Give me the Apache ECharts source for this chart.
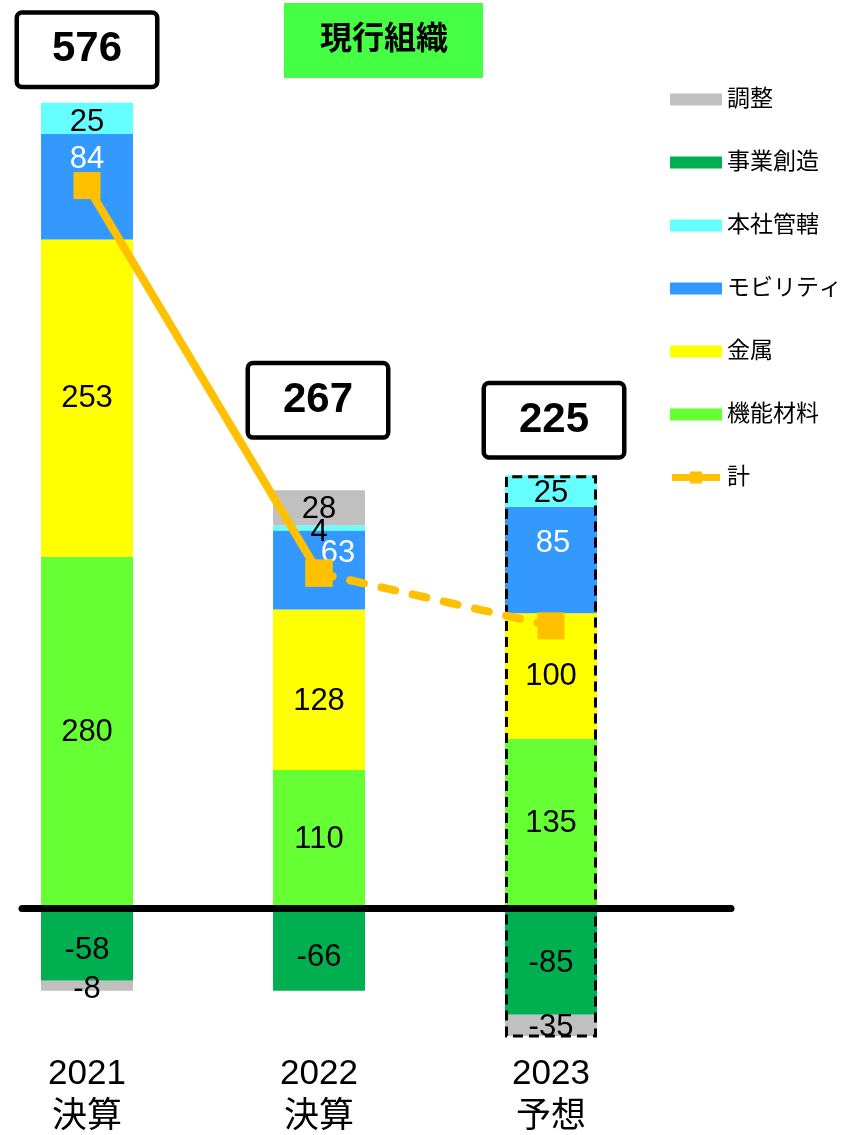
<!DOCTYPE html>
<html>
<head>
<meta charset="utf-8">
<script src="https://cdn.jsdelivr.net/npm/echarts@6/dist/echarts.min.js"></script>
<style>
  html, body { margin: 0; padding: 0; background: #fff; }
  #main-chart { width: 842px; height: 1135px; }
</style>
</head>
<body>
<div id="main-chart"></div>
<script>
const categories = ['2021\n決算', '2022\n決算', '2023\n予想']
const kinouZairyo = [280, 110, 135]
const kinzoku = [253, 128, 100]
const mobility = [84, 63, 85]
const honsha = [25, 4, 25]
const jigyouSouzou = [-58, -66, -85]
const chousei = [-8, 28, -35]
const totals = [576, 267, 225]
const legendOrder = ['調整', '事業創造', '本社管轄', 'モビリティ', '金属', '機能材料', '計']

const FONT = '"Liberation Sans", Arial, "Noto Sans CJK JP", sans-serif'
const BAR_W = 92

// stacking order from the zero line outwards
const stacks = [
  { name: '機能材料', data: kinouZairyo, color: '#66FF33', text: '#000' },
  { name: '金属', data: kinzoku, color: '#FFFF00', text: '#000' },
  { name: 'モビリティ', data: mobility, color: '#3399FF', text: '#fff' },
  { name: '本社管轄', data: honsha, color: '#66FFFF', text: '#000' },
  { name: '事業創造', data: jigyouSouzou, color: '#00B050', text: '#000' },
  { name: '調整', data: chousei, color: '#C0C0C0', text: '#000' }
]
// hand-moved data labels, as in the original
const nudges = {
  'モビリティ': [[0, -27], [19, -17], [2, -17]],
  '金属': [null, [0, 12], null],
  '事業創造': [[0, 6], [0, 8], [0, 2]],
  '本社管轄': [[0, 4], [0, 4], [0, 2]],
  '調整': [[0, 4], [0, 2], [0, 2]]
}
const boxNudges = [[0, -53], [-1, -90], [3, -55]]

const posTop = categories.map((c, i) => stacks.reduce((s, v) => s + Math.max(0, v.data[i]), 0))
const negBottom = categories.map((c, i) => stacks.reduce((s, v) => s + Math.min(0, v.data[i]), 0))

const barSeries = stacks.map(st => ({
  name: st.name,
  type: 'bar',
  stack: 'total',
  barWidth: BAR_W,
  barGap: '-100%',
  xAxisIndex: 0,
  yAxisIndex: 0,
  itemStyle: { color: st.color },
  label: {
    show: true,
    position: 'inside',
    color: st.text,
    fontFamily: FONT,
    fontSize: 31
  },
  data: st.data.map((v, i) => {
    const n = nudges[st.name] && nudges[st.name][i]
    return n ? { value: v, label: { offset: n } } : v
  })
}))

const outlineStyle = {
  color: 'rgba(0,0,0,0)',
  borderColor: '#000',
  borderWidth: 3,
  borderType: [10, 6]
}
const outlineSeries = [
  { name: 'outline+', data: posTop.map((v, i) => i === 2 ? v : '-') },
  { name: 'outline-', data: negBottom.map((v, i) => i === 2 ? v : '-') }
].map(s => ({
  name: s.name,
  type: 'bar',
  stack: 'outline',
  barWidth: BAR_W,
  barGap: '-100%',
  z: 4,
  silent: true,
  itemStyle: outlineStyle,
  data: s.data
}))

const lineStyleBase = {
  type: 'line',
  symbol: 'rect',
  symbolSize: 27,
  z: 5,
  itemStyle: { color: '#FFC000' }
}
const lineSeries = [
  Object.assign({}, lineStyleBase, {
    name: '計',
    lineStyle: { color: '#FFC000', width: 8 },
    data: totals.map((v, i) => i < 2 ? v : '-')
  }),
  Object.assign({}, lineStyleBase, {
    name: '計(予想)',
    lineStyle: { color: '#FFC000', width: 8, type: [14, 18], cap: 'round' },
    data: totals.map((v, i) => i >= 1 ? v : '-')
  })
]

const totalBoxes = {
  name: 'totals',
  type: 'scatter',
  symbolSize: 1,
  z: 6,
  silent: true,
  itemStyle: { opacity: 1, color: 'rgba(0,0,0,0)' },
  label: {
    show: true,
    position: 'inside',
    formatter: p => totals[p.dataIndex],
    fontFamily: FONT,
    fontWeight: 'bold',
    fontSize: 42,
    color: '#000',
    textBorderWidth: 0,
    backgroundColor: '#fff',
    borderColor: '#000',
    borderWidth: 4.5,
    borderRadius: 3,
    width: 136,
    height: 70,
    lineHeight: 70,
    align: 'center',
    verticalAlign: 'middle'
  },
  data: posTop.map((v, i) => ({ value: v, label: { offset: boxNudges[i] } }))
}

// legend glyph for the total line: thick stroke with a square marker
const totalIcon = 'path://M0,3H21V0H35V3H56V11H35V14H21V11H0Z'

const mainChart = echarts.init(document.getElementById('main-chart'))
mainChart.setOption({
  animation: false,
  title: {
    text: '現行組織',
    left: 284,
    top: 3,
    backgroundColor: '#45FF45',
    padding: [21, 35, 22, 36],
    textStyle: {
      fontFamily: FONT,
      fontWeight: 'bold',
      fontSize: 32,
      lineHeight: 32,
      color: '#000'
    }
  },
  legend: {
    orient: 'vertical',
    left: 665,
    top: 83,
    itemWidth: 52,
    itemHeight: 12,
    itemGap: 40,
    textStyle: { fontFamily: FONT, fontSize: 23, lineHeight: 23, color: '#000' },
    data: legendOrder.map(n => n === '計'
      ? { name: n, icon: totalIcon, itemStyle: { color: '#FFC000' } }
      : { name: n, icon: 'rect' })
  },
  grid: [
    { left: -29, right: 175, top: 30, bottom: 99, outerBoundsMode: 'none' },
    { left: 22, right: 111, top: 30, bottom: 99, outerBoundsMode: 'none' }
  ],
  xAxis: [
    {
      type: 'category',
      gridIndex: 0,
      data: categories,
      axisLine: { show: false, onZero: false },
      axisTick: { show: false },
      axisLabel: {
        margin: 17,
        fontFamily: FONT,
        fontSize: 35,
        lineHeight: 43,
        color: '#000'
      }
    },
    {
      type: 'value',
      gridIndex: 1,
      min: 0,
      max: 1,
      z: 10,
      axisLine: { show: true, onZero: true, lineStyle: { color: '#000', width: 7 } },
      axisTick: { show: false },
      axisLabel: { show: false },
      splitLine: { show: false }
    }
  ],
  yAxis: [
    { type: 'value', gridIndex: 0, min: -102, max: 700, show: false },
    { type: 'value', gridIndex: 1, min: -102, max: 700, show: false }
  ],
  series: [...barSeries, ...outlineSeries, ...lineSeries, totalBoxes]
})
</script>
</body>
</html>
